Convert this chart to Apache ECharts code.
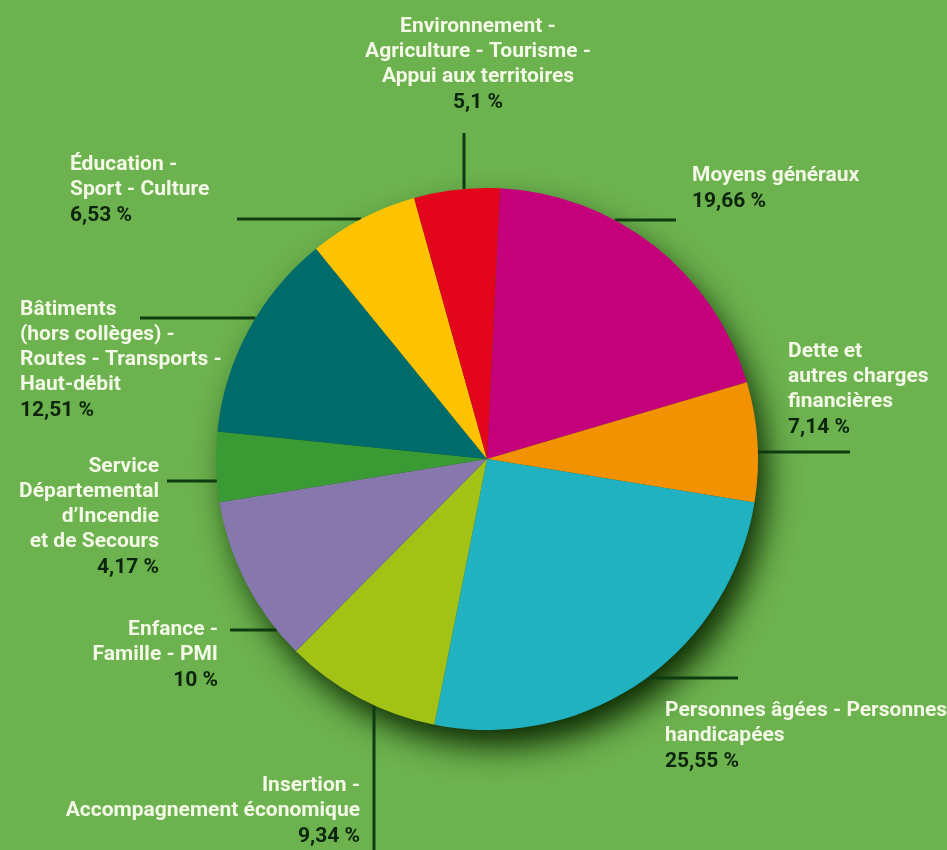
<!DOCTYPE html>
<html><head><meta charset="utf-8">
<script src="https://cdn.jsdelivr.net/npm/echarts@6/dist/echarts.min.js"></script>
<style>html,body{margin:0;padding:0;background:#6cb24e}#c{width:947px;height:850px}</style>
</head><body><div id="c"></div>
<script>
// ---- data ----
const categories = [
  'Moyens généraux',
  'Dette et\nautres charges\nfinancières',
  'Personnes âgées - Personnes\nhandicapées',
  'Insertion -\nAccompagnement économique',
  'Enfance -\nFamille - PMI',
  'Service\nDépartemental\nd’Incendie\net de Secours',
  'Bâtiments\n(hors collèges) -\nRoutes - Transports -\nHaut-débit',
  'Éducation -\nSport - Culture',
  'Environnement -\nAgriculture - Tourisme -\nAppui aux territoires'
];
const values = [19.66, 7.14, 25.55, 9.34, 10, 4.17, 12.51, 6.53, 5.1];
const colors = ['#c4007b', '#f39200', '#21b2c2', '#a2c215', '#8677ad', '#3a9b35', '#006b6b', '#fec300', '#e3051b'];

// ---- layout (positions only) ----
const CX = 487, CY = 459, R = 271;
const labelLayouts = [
  {x: 692, y: 163, align: 'left',   line: {h: true, y: 220, end: 676}},
  {x: 788, y: 339, align: 'left',   line: {h: true, y: 452, end: 850}},
  {x: 665, y: 698, align: 'left',   line: {h: true, y: 678, end: 738}},
  {x: 360, y: 773, align: 'right',  line: {h: false, x: 374, end: 852}},
  {x: 218, y: 617, align: 'right',  line: {h: true, y: 630, end: 230}},
  {x: 159, y: 454, align: 'right',  line: {h: true, y: 481, end: 167}},
  {x: 20,  y: 297, align: 'left',   line: {h: true, y: 318, end: 140}},
  {x: 70,  y: 152, align: 'left',   line: {h: true, y: 219, end: 237}},
  {x: 478, y: 14,  align: 'center', line: {h: false, x: 464, end: 133}}
];
function linePoints(L) {
  const l = L.line;
  if (l.h) {
    const dx = Math.sqrt(R * R - (l.y - CY) * (l.y - CY));
    const x1 = l.end > CX ? CX + dx : CX - dx;
    return [[x1, l.y], [l.end, l.y], [l.end, l.y]];
  } else {
    const dy = Math.sqrt(R * R - (l.x - CX) * (l.x - CX));
    const y1 = l.end > CY ? CY + dy : CY - dy;
    return [[l.x, y1], [l.x, l.end], [l.x, l.end]];
  }
}
const fmtPct = v => String(v).replace('.', ',') + ' %';
const FONT = 'Roboto, "Noto Sans", sans-serif';

const chart = echarts.init(document.getElementById('c'), null, {renderer: 'canvas'});
chart.setOption({
  backgroundColor: '#6cb24e',
  animation: false,
  graphic: [{
    type: 'circle', z: 0, silent: true,
    shape: {cx: CX, cy: CY, r: R - 2},
    style: {fill: '#2a5418', shadowBlur: 32, shadowOffsetX: 10, shadowOffsetY: 18, shadowColor: 'rgba(12,40,2,1)'}
  }],
  series: [
    {
      type: 'pie', z: 2,
      center: [CX, CY], radius: R,
      startAngle: 87.25, clockwise: true,
      data: categories.map((c, i) => ({name: c, value: values[i], itemStyle: {color: colors[i]}})),
      itemStyle: {borderWidth: 0},
      label: {
        show: true, position: 'outside', overflow: 'none',
        formatter: p => '{n|' + p.name + '}\n{p|' + fmtPct(p.value) + '}',
        rich: {
          n: {fontFamily: FONT, fontWeight: 'bold', fontSize: 21, lineHeight: 25, color: '#f3f9e6'},
          p: {fontFamily: FONT, fontWeight: 'bold', fontSize: 21, lineHeight: 27, color: '#0b240b'}
        }
      },
      labelLine: {show: true, lineStyle: {color: '#0e3b10', width: 3}},
      labelLayout: function (params) {
        const L = labelLayouts[params.dataIndex];
        return {x: L.x, y: L.y, align: L.align, verticalAlign: 'top', labelLinePoints: linePoints(L), hideOverlap: false};
      },
      emphasis: {disabled: true}
    }
  ]
});
</script></body></html>
